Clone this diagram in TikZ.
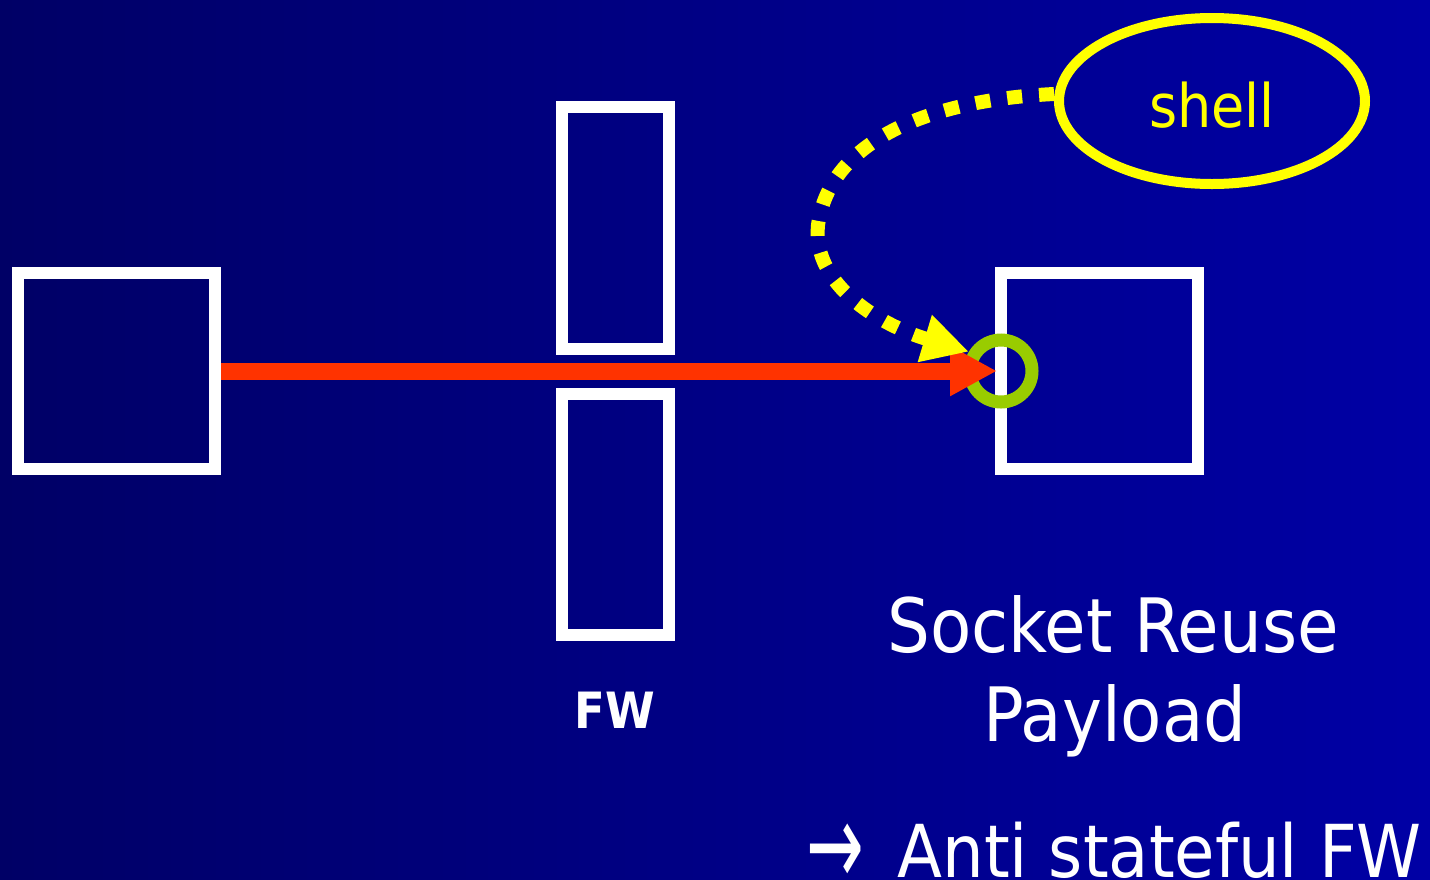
\documentclass[tikz,border=0pt]{standalone}
\usepackage{fontspec}
\setmainfont{DejaVu Sans}
\newfontfamily\tah{DejaVu Sans Condensed}
\usetikzlibrary{arrows.meta,shapes.geometric}
\definecolor{bgleft}{RGB}{0,0,102}
\definecolor{bgright}{RGB}{0,0,165}
\definecolor{redarr}{RGB}{255,51,0}
\definecolor{ringgreen}{RGB}{153,204,0}
\definecolor{shellyellow}{RGB}{255,255,0}
\tikzset{
  hostbox/.style={draw=white, line width=12pt, rectangle, inner sep=0pt, fill=none},
  wallbox/.style={draw=white, line width=12pt, rectangle, inner sep=0pt, minimum width=107pt},
  ring/.style={draw=ringgreen, line width=13pt, circle, minimum size=62pt, inner sep=0pt},
  shellnode/.style={draw=shellyellow, line width=10pt, ellipse, minimum width=306pt, minimum height=166pt, inner sep=0pt},
  bigtext/.style={text=white, font=\tah\fontsize{75}{75}\selectfont, anchor=base, inner sep=0pt},
  fwtext/.style={text=white, font=\tah\bfseries\fontsize{50}{50}\selectfont, anchor=base, inner sep=0pt},
  attack/.style={draw=redarr, line width=17pt, -{Triangle[length=47pt,width=47pt]}},
  reuse/.style={draw=shellyellow, line width=14pt, dash pattern=on 15pt off 17pt, -{Triangle[length=46pt,width=46pt]}}
}
\begin{document}
\begin{tikzpicture}[x=1pt,y=-1pt]
\useasboundingbox (0,0) rectangle (1430,879);
\shade[left color=bgleft, right color=bgright] (0,0) rectangle (1430,879);
% hosts and firewall
\node[hostbox, minimum width=197pt, minimum height=196pt] (client) at (116.5,371) {};
\node[wallbox, minimum height=242pt] (fwtop) at (615.5,228) {};
\node[wallbox, minimum height=241pt] (fwbot) at (615.5,514.5) {};
\node[hostbox, minimum width=197pt, minimum height=196pt] (server) at (1099.5,371) {};
\node[ring] (sock) at (1001,371) {};
\node[shellnode] (shell) at (1212,101) {};
\node[text=shellyellow, font=\tah\fontsize{60}{60}\selectfont, anchor=base, inner sep=0pt] (shelltxt) at (1212,127) {shell};
% connectors
\draw[attack] (client.east) -- ([xshift=-4pt]sock.center);
\draw[reuse] ([yshift=7pt]shell.west) .. controls (930,100) and (830,140) .. (818,225)
  .. controls (812,285) and (880,325) .. (sock.149);
% labels
\node[fwtext] (fwlabel) at (615,728) {FW};
\node[bigtext] (sr1) at (1113,652) {Socket Reuse};
\node[bigtext] (sr2) at (1115,741) {Payload};
\node[bigtext, anchor=base east, font=\tah\fontsize{73}{73}\selectfont] (anti) at (1422,877) {\raisebox{-0.12em}{\scalebox{1.05}[1.6]{→}}\hspace{0.45em}Anti stateful FW};
\end{tikzpicture}
\end{document}
